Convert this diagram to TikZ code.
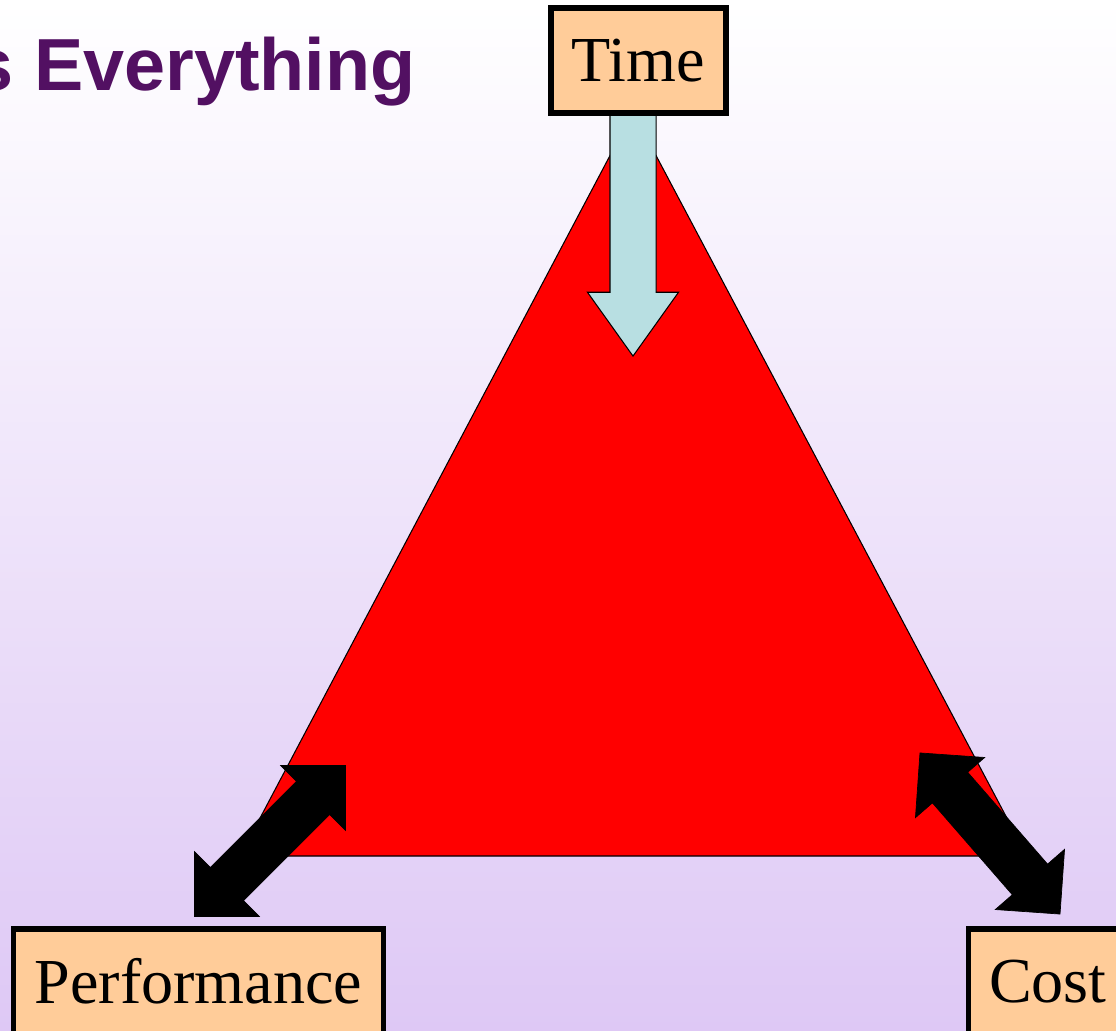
\documentclass[tikz,border=0pt]{standalone}
\usepackage{fontspec}
\setmainfont{Liberation Serif}
\newfontfamily\headfont{Liberation Sans}
\usetikzlibrary{shapes.arrows}
\definecolor{boxpeach}{RGB}{255,204,153}
\definecolor{timeblue}{RGB}{184,223,226}
\definecolor{headpurple}{RGB}{82,16,98}
\definecolor{lavender}{RGB}{222,200,245}
\definecolor{lavlight}{RGB}{248,242,253}
\tikzset{
  labelbox/.style = {rectangle, draw=black, fill=boxpeach, line width=3pt,
    minimum height=2.1cm, inner xsep=0.42cm, font=\fontsize{36.5}{42}\selectfont},% box round a word
  twohead/.style = {double arrow, fill=black, draw=black, inner xsep=0pt, inner ysep=0.46cm,
    double arrow head extend=0.45cm, minimum height=4.27cm},% black two-way arrow
  downarrow/.style = {single arrow, fill=timeblue, draw=black, line width=0.6pt,
    inner xsep=0pt, inner ysep=0.45cm, single arrow head extend=0.45cm,
    single arrow tip angle=71}% light blue push arrow
}

\begin{document}
\begin{tikzpicture}[x=0.02cm, y=-0.02cm]
    \useasboundingbox (0,0) rectangle (1116,1031);
    \shade[top color=white, middle color=lavlight, bottom color=lavender] (0,0) rectangle (1116,1031);
    % title, cut off at the left edge
    \node[anchor=base east, inner sep=0pt, text=headpurple,
      font=\headfont\bfseries\fontsize{42}{48}\selectfont] (title) at (416,90) {s Everything};
    % the triangle
    \coordinate (apex) at (633,112);
    \coordinate (left) at (240,856);
    \coordinate (right) at (1027,856);
    \draw[fill=red, line width=0.6pt] (apex) -- (left) -- (right) -- cycle;
    \node[downarrow, rotate=-90, minimum height=4.94cm, anchor=tip] (push) at (633,357) {};
    \node[twohead, rotate=45] (tradeperf) at (270,841) {};
    \node[twohead, rotate=-49] (tradecost) at (990,833.5) {};
    % the three words
    \node[labelbox] (time) at (638.5,60.5) {Time};
    \node[labelbox] (perf) at (198.5,981.5) {Performance};
    \node[labelbox, anchor=west] (cost) at (965.5,981.5) {Cost};
\end{tikzpicture}
\end{document}
